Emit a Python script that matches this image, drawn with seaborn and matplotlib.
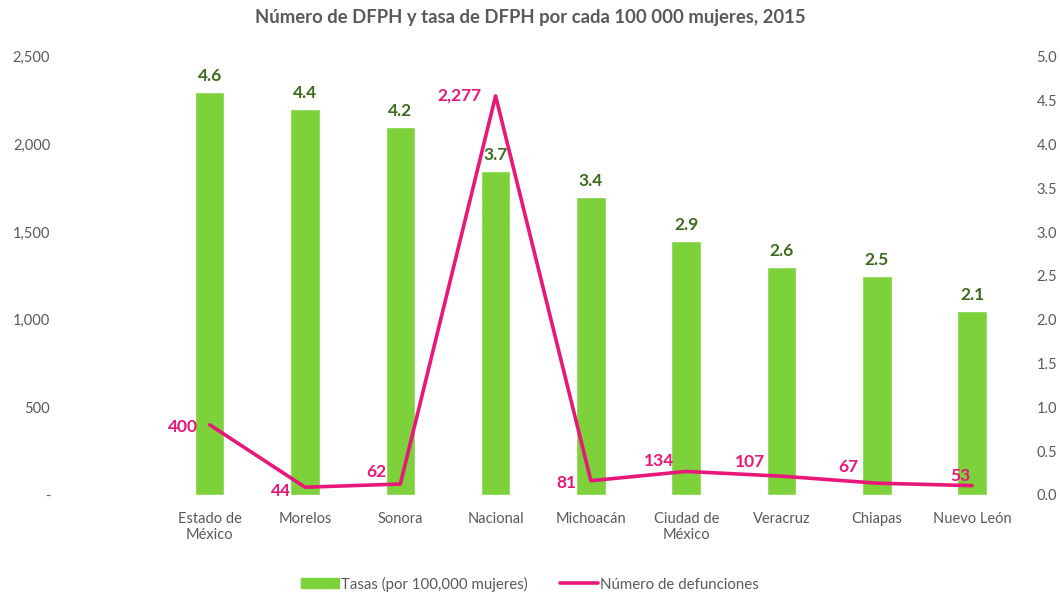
import numpy as np
import pandas as pd
import seaborn as sns
import matplotlib.pyplot as plt
from matplotlib.ticker import MultipleLocator, FuncFormatter
from matplotlib.patches import Patch
from matplotlib.lines import Line2D

entidades = ["", "Estado de\nMéxico", "Morelos", "Sonora", "Nacional", "Michoacán",
             "Ciudad de\nMéxico", "Veracruz", "Chiapas", "Nuevo León"]
tasas = [np.nan, 4.6, 4.4, 4.2, 3.7, 3.4, 2.9, 2.6, 2.5, 2.1]
defunciones = [np.nan, 400, 44, 62, 2277, 81, 134, 107, 67, 53]
# desplazamiento de las etiquetas de la línea (pixeles)
offsets = [None, (-12, -2), (-14, -4), (-14, 12), (-14, 0), (-14, -2),
           (-12, 10), (-16, 14), (-18, 16), (-2, 10)]

df = pd.DataFrame({"entidad": entidades, "tasa": tasas, "defunciones": defunciones})

sns.set_style("white")
plt.rcParams["font.family"] = ["Lato", "DejaVu Sans"]

verde = "#7dd13b"
rosa = "#e8177a"
gris = "#595959"

fig = plt.figure(figsize=(10.6, 5.92), dpi=100)
ax = fig.add_axes([0.063, 0.164, 0.899, 0.740])

# barras (eje derecho)
sns.barplot(data=df, x="entidad", y="tasa", color=verde, width=0.31,
            saturation=1, order=entidades, ax=ax)
ax.set_ylim(0, 5.0)
ax.set_xlim(-0.5, len(entidades) - 0.5)
ax.set_xlabel("")
ax.set_ylabel("")
for i, v in enumerate(tasas):
    if np.isnan(v):
        continue
    ax.annotate(f"{v:.1f}", (i, v), xytext=(0, 8), textcoords="offset pixels",
                ha="center", va="bottom", color="#3d6b1e", fontsize=12.5, fontweight="bold")

# línea (eje izquierdo)
ax2 = ax.twinx()
sns.lineplot(x=df.index, y=df["defunciones"], color=rosa, lw=2.6, ax=ax2)
ax2.set_ylim(0, 2500)
ax2.set_ylabel("")
ax2.grid(False)
for i, v in enumerate(defunciones):
    if np.isnan(v):
        continue
    ax2.annotate(f"{v:,.0f}", (i, v), xytext=offsets[i], textcoords="offset pixels",
                 ha="right", va="center", color=rosa, fontsize=12.5, fontweight="bold")

# ejes: tasas a la derecha, defunciones a la izquierda
ax.yaxis.tick_right()
ax.yaxis.set_major_locator(MultipleLocator(0.5))
ax.yaxis.set_major_formatter(FuncFormatter(lambda v, p: f"{v:.1f}"))
ax.yaxis.set_minor_locator(MultipleLocator(1.0))
ax.grid(False)
ax.grid(which="minor", axis="y", color="#d9d9d9", lw=1)
ax.set_axisbelow(True)
ax.tick_params(axis="y", which="both", length=0, labelsize=10.5, labelcolor=gris, pad=12)
ax.tick_params(axis="x", length=0, labelsize=10.5, labelcolor=gris, pad=12)

ax2.yaxis.tick_left()
ax2.yaxis.set_major_locator(MultipleLocator(500))
ax2.yaxis.set_major_formatter(FuncFormatter(lambda v, p: "-" if v == 0 else f"{v:,.0f}"))
ax2.tick_params(axis="y", length=0, labelsize=10.5, labelcolor=gris, pad=12)

for a in (ax, ax2):
    for s in a.spines.values():
        s.set_visible(False)

fig.suptitle("Número de DFPH y tasa de DFPH por cada 100 000 mujeres, 2015",
             x=0.5, y=0.985, fontsize=13.3, fontweight="bold", color=gris)

handles = [Patch(color=verde), Line2D([0], [0], color=rosa, lw=2.6)]
fig.legend(handles, ["Tasas (por 100,000 mujeres)", "Número de defunciones"],
           loc="lower center", bbox_to_anchor=(0.5, -0.022), ncol=2, frameon=False,
           fontsize=10.8, labelcolor=gris, handlelength=2.5, handleheight=0.6,
           handletextpad=0.15, columnspacing=2.2)

fig.savefig("out.png", dpi=100)
